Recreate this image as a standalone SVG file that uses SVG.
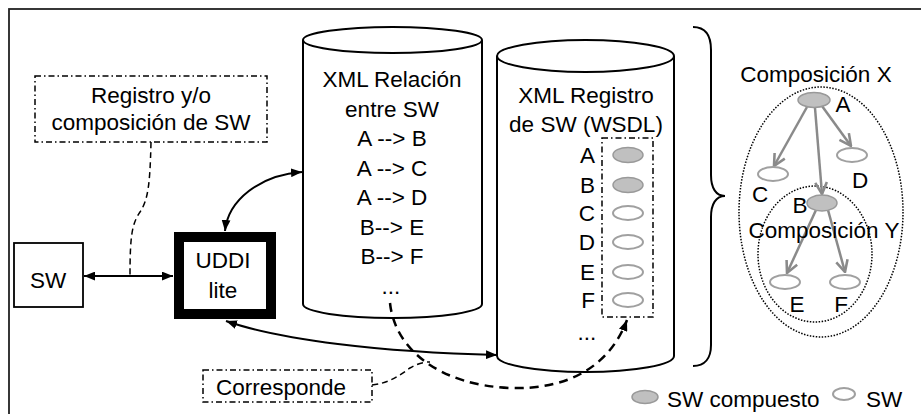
<svg xmlns="http://www.w3.org/2000/svg" width="921" height="414" viewBox="0 0 921 414">
  <style>
    text { font-family: "Liberation Sans", Arial, sans-serif; font-size: 22.5px; fill: #000; }
    .mid { text-anchor: middle; }
    .end { text-anchor: end; }
    .solid { fill: none; stroke: #000; stroke-width: 2; }
    .dashdot { fill: #fff; stroke: #000; stroke-width: 1.5; stroke-dasharray: 6 3 1.5 3; }
    .cyl { fill: #fff; stroke: #000; stroke-width: 2; }
    .dash { fill: none; stroke: #000; stroke-width: 1.5; stroke-dasharray: 6 4; }
    .bigdash { fill: none; stroke: #000; stroke-width: 2.5; stroke-dasharray: 9 6; }
    .dotted { fill: none; stroke: #000; stroke-width: 1.5; stroke-dasharray: 1.5 1.5; }
    .comp { fill: #c0c0c0; stroke: #999; stroke-width: 1.5; }
    .plain { fill: #fff; stroke: #a0a0a0; stroke-width: 2; }
    .garrow { fill: none; stroke: #8a8a8a; stroke-width: 2.5; marker-end: url(#vhead); }
  </style>
  <defs>
    <marker id="head" viewBox="0 0 10 8" refX="10" refY="4" markerWidth="11" markerHeight="9" markerUnits="userSpaceOnUse" orient="auto-start-reverse">
      <path d="M0,0 L10,4 L0,8 z" fill="#000"/>
    </marker>
    <marker id="vhead" viewBox="0 0 12 12" refX="11" refY="6" markerWidth="14" markerHeight="14" markerUnits="userSpaceOnUse" orient="auto">
      <path d="M1,1 L11,6 L1,11" fill="none" stroke="#8a8a8a" stroke-width="2.2"/>
    </marker>
  </defs>

  <rect width="921" height="414" fill="#fff"/>
  <!-- outer frame -->
  <rect x="9" y="9" width="925" height="420" fill="none" stroke="#222" stroke-width="1.8"/>

  <!-- nodes -->
  <g id="registro">
    <rect class="dashdot" x="35" y="76" width="232" height="66"/>
    <text class="mid" x="151" y="103">Registro y/o</text>
    <text class="mid" x="151" y="130">composición de SW</text>
  </g>

  <g id="sw">
    <rect x="14" y="243" width="69" height="64" fill="#fff" stroke="#000" stroke-width="1.8"/>
    <text class="mid" x="48" y="288">SW</text>
  </g>

  <g id="uddi">
    <rect x="179" y="237" width="92" height="77" fill="#fff" stroke="#000" stroke-width="10"/>
    <text class="mid" x="223" y="268">UDDI</text>
    <text class="mid" x="223" y="298">lite</text>
  </g>

  <g id="xml-relacion">
    <path class="cyl" d="M303,40 L303,304 A89.5,14 0 0 0 482,304 L482,40"/>
    <ellipse class="cyl" cx="392.5" cy="40" rx="89.5" ry="13"/>
    <text class="mid" x="392" y="87">XML Relación</text>
    <text class="mid" x="392" y="117">entre SW</text>
    <text class="mid" x="392" y="146">A --&gt; B</text>
    <text class="mid" x="392" y="176">A --&gt; C</text>
    <text class="mid" x="392" y="205">A --&gt; D</text>
    <text class="mid" x="392" y="235">B--&gt; E</text>
    <text class="mid" x="392" y="264">B--&gt; F</text>
    <text class="mid" x="391" y="294">...</text>
  </g>

  <g id="xml-registro">
    <path class="cyl" d="M497,56 L497,356 A88.5,16 0 0 0 674,356 L674,56"/>
    <ellipse class="cyl" cx="585.5" cy="56" rx="88.5" ry="16"/>
    <text class="mid" x="586" y="103">XML Registro</text>
    <text class="mid" x="586" y="132">de SW (WSDL)</text>
    <rect class="dashdot" x="602" y="138" width="51" height="179" fill="none"/>
    <text class="end" x="595" y="163">A</text>
    <text class="end" x="595" y="193">B</text>
    <text class="end" x="595" y="221">C</text>
    <text class="end" x="595" y="250">D</text>
    <text class="end" x="595" y="280">E</text>
    <text class="end" x="595" y="308">F</text>
    <text class="mid" x="587" y="340">...</text>
    <ellipse class="comp" cx="628" cy="155" rx="15" ry="7.5"/>
    <ellipse class="comp" cx="628" cy="185" rx="15" ry="7.5"/>
    <ellipse class="plain" cx="628" cy="213" rx="15" ry="7"/>
    <ellipse class="plain" cx="628" cy="242" rx="15" ry="7"/>
    <ellipse class="plain" cx="628" cy="272" rx="15" ry="7"/>
    <ellipse class="plain" cx="628" cy="300" rx="15" ry="7"/>
  </g>

  <g id="corresponde">
    <rect class="dashdot" x="203" y="370" width="169" height="32"/>
    <text class="mid" x="281" y="395">Corresponde</text>
  </g>

  <g id="brace">
    <path class="solid" d="M693,27 C705,27 711,35 711,50 L711,175 C711,188 716,196 725,196 C716,196 711,204 711,217 L711,345 C711,358 705,366 693,366"/>
  </g>

  <g id="composicion">
    <ellipse class="dotted" cx="821" cy="212" rx="82" ry="125"/>
    <ellipse class="dotted" cx="815" cy="254" rx="57" ry="68"/>
    <text class="mid" x="816" y="82">Composición X</text>
    <line class="garrow" x1="807" y1="107" x2="774" y2="166"/>
    <line class="garrow" x1="815" y1="108" x2="822" y2="194"/>
    <line class="garrow" x1="822" y1="106" x2="851" y2="146"/>
    <line class="garrow" x1="816" y1="210" x2="787" y2="273"/>
    <line class="garrow" x1="828" y1="210" x2="845" y2="272"/>
    <ellipse class="comp" cx="814" cy="100" rx="16" ry="7.5"/>
    <ellipse class="plain" cx="773" cy="174" rx="15" ry="7"/>
    <ellipse class="plain" cx="852" cy="155" rx="15" ry="7"/>
    <ellipse class="comp" cx="822" cy="203" rx="15" ry="8"/>
    <ellipse class="plain" cx="785" cy="282" rx="15" ry="7"/>
    <ellipse class="plain" cx="845" cy="282" rx="15" ry="7"/>
    <text class="mid" x="843" y="112">A</text>
    <text class="mid" x="760" y="202">C</text>
    <text class="mid" x="860" y="188">D</text>
    <text class="mid" x="800" y="213">B</text>
    <text class="mid" x="824" y="238">Composición Y</text>
    <text class="mid" x="797" y="312">E</text>
    <text class="mid" x="841" y="312">F</text>
  </g>

  <g id="legend">
    <ellipse class="comp" cx="645" cy="397" rx="13" ry="6.5"/>
    <text x="667" y="407">SW compuesto</text>
    <ellipse class="plain" cx="844" cy="394" rx="11" ry="6"/>
    <text x="866" y="407">SW</text>
  </g>

  <!-- connectors -->
  <g id="connectors">
    <line class="solid" x1="84" y1="276" x2="173" y2="276" marker-start="url(#head)" marker-end="url(#head)"/>
    <path class="dash" d="M151,142 C150,185 148,200 140,212 C132,224 130,235 130,276"/>
    <path class="solid" d="M225,231 C228,200 260,175 302,172" marker-start="url(#head)" marker-end="url(#head)"/>
    <path class="solid" d="M226,321 C280,340 380,352 497,355" marker-start="url(#head)" marker-end="url(#head)"/>
    <path class="bigdash" d="M390,303 C395,350 440,385 510,388 C570,390 610,365 627,320" marker-end="url(#head)"/>
    <path class="dash" d="M372,385 C390,383 400,375 410,368 C418,363 425,362 430,362"/>
  </g>
</svg>
